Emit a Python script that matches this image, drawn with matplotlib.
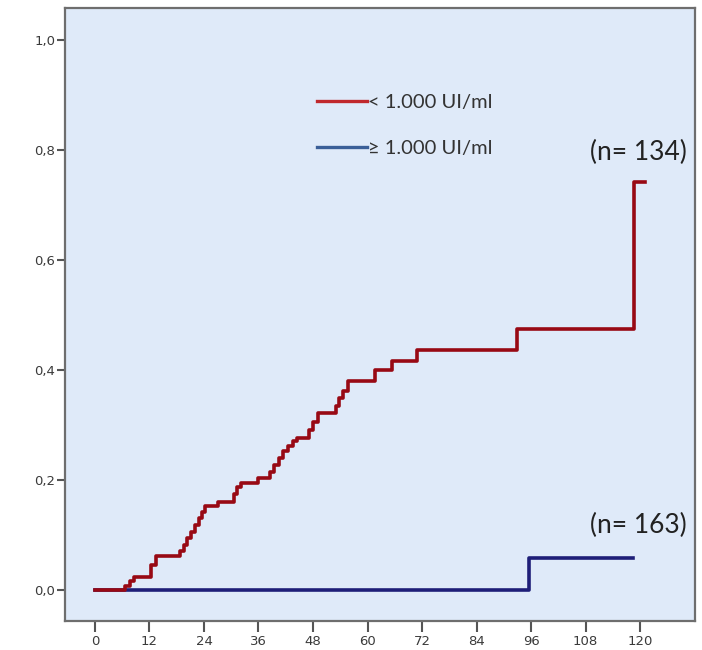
import matplotlib.pyplot as plt
from matplotlib.lines import Line2D
import numpy as np

# Cumulative incidence, group < 1.000 UI/ml (step times in months, value after the step)
low_times = [0, 6.6, 7.6, 8.6, 12.3, 13.5, 18.7, 19.5, 20.3, 21.2, 22.0, 22.8, 23.6,
             24.3, 27.0, 30.5, 31.3, 32.2, 36.0, 38.5, 39.5, 40.5, 41.5, 42.5, 43.5,
             44.5, 47.2, 48.0, 49.0, 53.0, 53.8, 54.6, 55.6, 61.6, 65.4, 71.0, 93.0,
             118.7, 121.0]
low_values = [0, 0.008, 0.016, 0.024, 0.045, 0.062, 0.070, 0.082, 0.094, 0.106, 0.118,
              0.130, 0.142, 0.152, 0.160, 0.175, 0.188, 0.195, 0.204, 0.215, 0.228,
              0.240, 0.252, 0.262, 0.270, 0.277, 0.290, 0.305, 0.322, 0.335, 0.348,
              0.362, 0.380, 0.400, 0.416, 0.436, 0.474, 0.742, 0.742]

# group >= 1.000 UI/ml
high_times = [0, 95.5, 118.5]
high_values = [0, 0.058, 0.058]

x_ticks = [0, 12, 24, 36, 48, 60, 72, 84, 96, 108, 120]
y_ticks = [0.0, 0.2, 0.4, 0.6, 0.8, 1.0]
y_tick_labels = ['0,0', '0,2', '0,4', '0,6', '0,8', '1,0']

legend_labels = ['< 1.000 UI/ml', '\u2265 1.000 UI/ml']
n_labels = ['(n= 134)', '(n= 163)']

fig = plt.figure(figsize=(7.02, 6.5), dpi=100)
ax = fig.add_axes([0.0926, 0.0446, 0.8974, 0.9434])
ax.set_facecolor('#dfeaf9')

ax.step(high_times, high_values, where='post', color='#1e1e78', lw=2.6, zorder=2)
ax.step(low_times, low_values, where='post', color='#980914', lw=2.6, zorder=3)

ax.set_xlim(-6.6, 132.1)
ax.set_ylim(-0.0564, 1.058)
ax.set_xticks(x_ticks)
ax.set_yticks(y_ticks)
ax.set_yticklabels(y_tick_labels)

for s in ax.spines.values():
    s.set_color('#6e6e6e')
    s.set_linewidth(1.6)
ax.tick_params(axis='y', length=6, width=1.5, color='#555555', labelsize=9.5,
               labelcolor='#3a3a3a', pad=1)
ax.tick_params(axis='x', length=8, width=1.5, color='#555555', labelsize=9.5,
               labelcolor='#3a3a3a', pad=2)

handles = [Line2D([], [], color='#c0282d', lw=2.4),
           Line2D([], [], color='#3a5f98', lw=2.4)]
ax.legend(handles, legend_labels, loc='upper left', bbox_to_anchor=(0.40, 0.86),
          frameon=False, handlelength=2.5, handletextpad=0.05, labelspacing=1.45,
          borderpad=0, borderaxespad=0,
          prop={'family': 'Lato', 'size': 14.5}, labelcolor='#333333')

ax.text(0.987, 0.764, n_labels[0], transform=ax.transAxes, ha='right', va='center',
        fontsize=19, family='Lato', color='#222222')
ax.text(0.987, 0.156, n_labels[1], transform=ax.transAxes, ha='right', va='center',
        fontsize=19, family='Lato', color='#222222')

fig.savefig('out.png', dpi=100)
